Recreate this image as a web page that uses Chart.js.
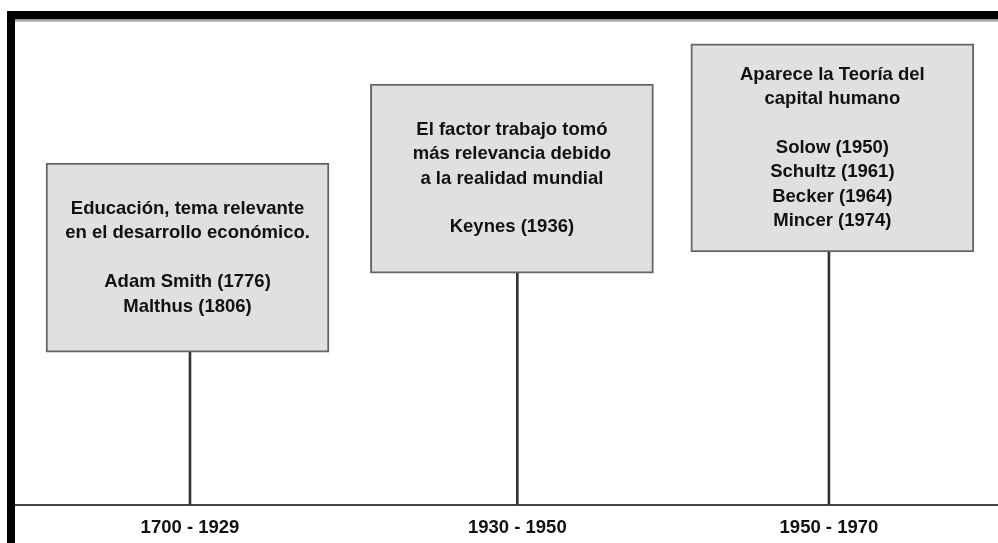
<!DOCTYPE html>
<html>
<head>
<meta charset="utf-8">
<script src="https://cdn.jsdelivr.net/npm/chart.js@4"></script>
<style>
    body { margin: 0; background: #fff; }
    #wrap { position: relative; width: 998px; height: 543px; overflow: hidden; }
    #grafico { position: absolute; left: 0; top: 0; }
    .marco-top { position: absolute; left: 7px; top: 11px; width: 991px; height: 8px; background: #000; }
    .marco-sombra { position: absolute; left: 15px; top: 19px; width: 983px; height: 3px; background: linear-gradient(#8a8a8a, #d0d0d0); }
    .marco-left { position: absolute; left: 7px; top: 11px; width: 8px; height: 532px; background: #000; }
</style>
</head>
<body>
<div id="wrap">
    <canvas id="grafico" width="998" height="543"></canvas>
    <div class="marco-top"></div>
    <div class="marco-sombra"></div>
    <div class="marco-left"></div>
</div>
<script>
// Periodos de la línea de tiempo
const periods = ['1700 - 1929', '1930 - 1950', '1950 - 1970'];
const stemPos = [17.8, 51.1, 82.8];       // posición de cada periodo en el eje
const boxCenter = [17.55, 50.55, 83.15];
const boxBottom = [31.5, 47.8, 52.2];
const boxTop = [70.5, 86.8, 95.1];
const boxText = [
    ['Educación, tema relevante', 'en el desarrollo económico.', '', 'Adam Smith (1776)', 'Malthus (1806)'],
    ['El factor trabajo tomó', 'más relevancia debido', 'a la realidad mundial', '', 'Keynes (1936)'],
    ['Aparece la Teoría del', 'capital humano', '', 'Solow (1950)', 'Schultz (1961)', 'Becker (1964)', 'Mincer (1974)']
];

const FONT = '"Liberation Sans", Arial, sans-serif';

// Texto dentro de cada caja
const textoCajas = {
    id: 'textoCajas',
    afterDatasetsDraw(chart) {
        const meta = chart.getDatasetMeta(1);
        const ctx = chart.ctx;
        ctx.save();
        ctx.font = 'bold 18.5px ' + FONT;
        ctx.fillStyle = '#111111';
        ctx.textAlign = 'center';
        ctx.textBaseline = 'middle';
        const lh = 24.4;
        meta.data.forEach((el, i) => {
            const lines = boxText[i];
            const cy = (el.y + el.base) / 2;
            const y0 = cy - (lines.length - 1) * lh / 2;
            lines.forEach((t, j) => ctx.fillText(t, el.x, y0 + j * lh));
        });
        ctx.restore();
    }
};

const ctx = document.getElementById('grafico').getContext('2d');
new Chart(ctx, {
    type: 'bar',
    data: {
        datasets: [
            {
                label: 'stems',
                data: stemPos.map((x, i) => ({ x: x, y: [0, boxBottom[i]] })),
                backgroundColor: '#333333',
                barThickness: 2,
                grouped: false,
                order: 2
            },
            {
                label: 'cajas',
                data: boxCenter.map((x, i) => ({ x: x, y: [boxBottom[i], boxTop[i]] })),
                backgroundColor: '#e0e0e0',
                borderColor: '#666666',
                borderWidth: 2,
                borderSkipped: false,
                barThickness: 283,
                grouped: false,
                order: 1
            }
        ]
    },
    options: {
        responsive: false,
        animation: false,
        layout: { padding: { left: 15, right: 0, top: 20, bottom: 0 } },
        plugins: { legend: { display: false }, tooltip: { enabled: false } },
        scales: {
            x: {
                type: 'linear',
                min: 0,
                max: 100,
                offset: false,
                grid: { display: false, drawTicks: false },
                border: { display: true, color: '#444444', width: 2 },
                afterBuildTicks: axis => { axis.ticks = stemPos.map(v => ({ value: v })); },
                afterFit: axis => { axis.height = 38; },
                ticks: {
                    autoSkip: false,
                    maxRotation: 0,
                    padding: 12,
                    color: '#111111',
                    font: { family: FONT, size: 18.5, weight: 'bold' },
                    callback: (v, i) => periods[i]
                }
            },
            y: {
                display: false,
                min: 0,
                max: 100
            }
        }
    },
    plugins: [textoCajas]
});
</script>
</body>
</html>
